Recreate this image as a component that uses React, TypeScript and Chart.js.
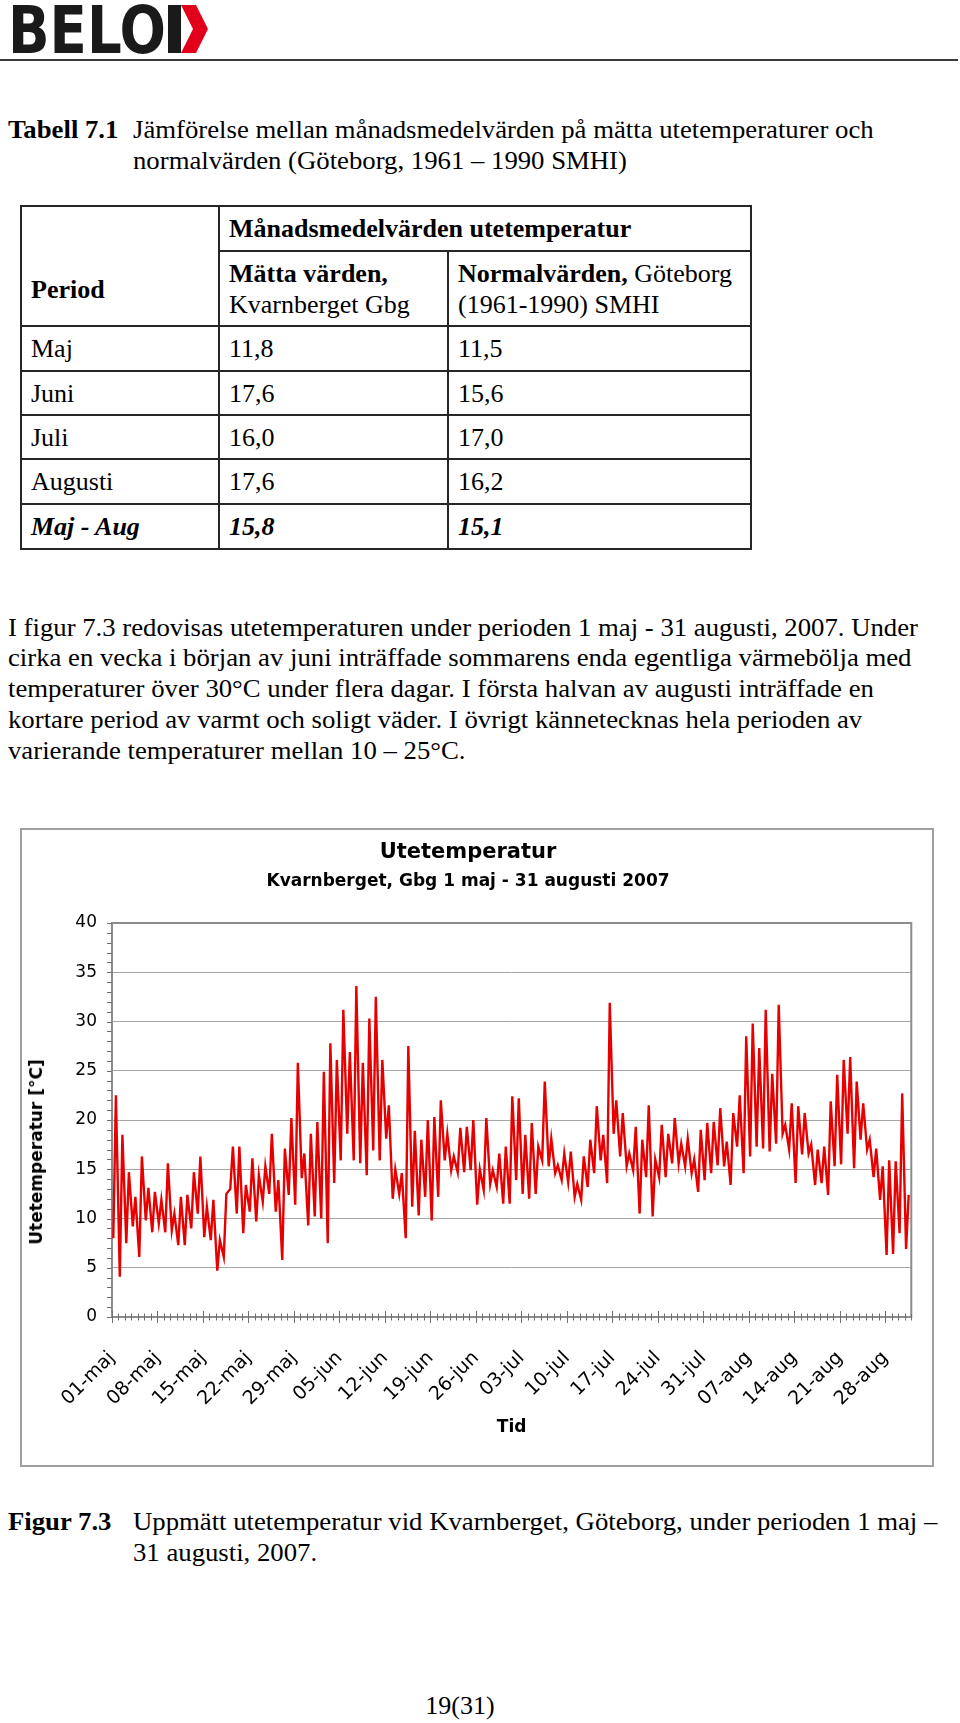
import React, { useEffect, useRef } from 'react';
import { Chart, registerables } from 'chart.js';

Chart.register(...registerables);

// ---- Chart data ----
const tickLabels = [
  '01-maj', '08-maj', '15-maj', '22-maj', '29-maj', '05-jun', '12-jun', '19-jun', '26-jun',
  '03-jul', '10-jul', '17-jul', '24-jul', '31-jul', '07-aug', '14-aug', '21-aug', '28-aug',
];

// Daily low (night) temperatures, 1 May - 31 Aug 2007 (123 days)
const dailyLow = [
  8.0, 4.1, 7.5, 9.2, 6.1, 9.8, 8.6, 9.5, 8.6, 8.8,
  7.3, 7.3, 9.0, 10.5, 8.1, 7.8, 4.7, 6.1, 13.0, 10.5,
  8.5, 10.7, 9.7, 11.7, 12.5, 10.7, 5.8, 12.4, 11.4, 14.1,
  9.3, 10.2, 10.0, 7.5, 13.6, 15.9, 18.6, 15.9, 15.6, 14.4,
  16.9, 15.9, 18.1, 12.0, 12.5, 8.0, 11.2, 10.3, 12.2, 9.8,
  12.2, 15.9, 14.9, 14.7, 14.7, 14.9, 11.4, 12.9, 13.5, 13.2,
  11.5, 11.5, 13.9, 12.5, 12.0, 12.5, 15.9, 15.3, 14.6, 13.9,
  13.7, 12.2, 11.9, 13.2, 14.6, 15.9, 13.6, 18.6, 16.3, 15.3,
  14.9, 10.5, 14.2, 10.2, 14.2, 14.2, 15.6, 15.6, 15.3, 14.6,
  12.7, 13.9, 14.6, 15.4, 15.3, 13.4, 17.3, 14.6, 16.3, 17.3,
  17.1, 16.8, 17.6, 18.6, 17.0, 13.6, 16.5, 16.6, 13.4, 13.6,
  12.4, 15.3, 15.5, 18.6, 15.1, 18.0, 17.0, 14.2, 11.9, 6.3,
  6.4, 8.5, 6.9,
];

// Daily high (afternoon) temperatures
const dailyHigh = [
  22.5, 18.5, 14.7, 12.2, 16.3, 13.1, 12.7, 11.9, 15.6, 10.5,
  12.2, 12.4, 14.7, 16.3, 11.2, 11.9, 7.8, 12.5, 17.3, 17.3,
  13.4, 16.1, 14.4, 15.3, 18.6, 13.9, 17.1, 20.2, 25.8, 16.6,
  18.6, 19.8, 24.9, 27.8, 26.1, 31.2, 26.9, 33.6, 25.8, 30.3,
  32.5, 26.1, 21.5, 15.0, 14.6, 27.5, 18.9, 18.0, 20.0, 20.3,
  22.0, 18.6, 16.3, 19.2, 19.3, 20.0, 15.0, 20.2, 14.9, 16.6,
  17.3, 22.4, 22.2, 18.5, 19.7, 17.3, 23.9, 18.1, 15.4, 16.6,
  16.8, 13.5, 16.3, 18.0, 21.4, 18.5, 31.9, 22.0, 20.7, 16.6,
  19.3, 18.0, 21.5, 16.0, 19.5, 18.6, 20.2, 17.6, 18.1, 16.0,
  19.0, 19.7, 19.8, 21.2, 17.8, 20.7, 22.5, 28.5, 29.8, 27.3,
  31.2, 24.7, 31.7, 19.5, 21.7, 21.4, 20.7, 17.5, 17.0, 17.3,
  21.9, 24.6, 26.1, 26.4, 23.9, 21.7, 18.0, 17.1, 15.3, 15.9,
  15.8, 22.7, 12.4,
];

// ---- Table data ----
const periods = ['Maj', 'Juni', 'Juli', 'Augusti'];
const measured = ['11,8', '17,6', '16,0', '17,6'];
const normals = ['11,5', '15,6', '17,0', '16,2'];
const summary = ['Maj - Aug', '15,8', '15,1'];

const SERIF = '"Liberation Serif", "Times New Roman", serif';
const CHART_FONT = '"DejaVu Sans", Verdana, sans-serif';

const tickMarksPlugin = {
  id: 'tickMarks',
  beforeDatasetsDraw(chart: any) {
    const { ctx, chartArea: a, scales } = chart;
    const x = scales.x;
    const y = scales.y;
    ctx.save();
    ctx.strokeStyle = '#8c8c8c';
    ctx.lineWidth = 2;
    ctx.strokeRect(a.left, a.top, a.right - a.left, a.bottom - a.top);
    ctx.strokeStyle = '#707070';
    ctx.lineWidth = 1;
    ctx.beginPath();
    for (let d = 0; d <= x.max; d++) {
      const px = Math.round(x.getPixelForValue(d)) + 0.5;
      const len = d % 7 === 0 ? 6 : 3.5;
      ctx.moveTo(px, a.bottom - len);
      ctx.lineTo(px, a.bottom + len);
    }
    for (let v = y.min; v <= y.max; v++) {
      const py = Math.round(y.getPixelForValue(v)) + 0.5;
      ctx.moveTo(a.left - 5, py);
      ctx.lineTo(a.left, py);
    }
    ctx.stroke();
    ctx.restore();
  },
};

function TempChart() {
  const ref = useRef<HTMLCanvasElement | null>(null);
  useEffect(() => {
    if (!ref.current) return;
    Chart.defaults.font.family = CHART_FONT;
    Chart.defaults.color = '#000';
    const points = dailyLow.flatMap((lo, d) => [
      { x: d + 0.2, y: lo },
      { x: d + 0.6, y: dailyHigh[d] },
    ]);
    const chart = new Chart(ref.current, {
      type: 'line',
      data: {
        datasets: [
          {
            data: points,
            borderColor: '#e60000',
            borderWidth: 2.4,
            pointRadius: 0,
            tension: 0,
            fill: false,
          },
        ],
      },
      options: {
        animation: false,
        responsive: false,
        maintainAspectRatio: false,
        events: [],
        layout: { padding: { left: 0, right: 18, top: 0, bottom: 0 } },
        plugins: {
          legend: { display: false },
          tooltip: { enabled: false },
          title: {
            display: true,
            text: 'Utetemperatur',
            color: '#000',
            font: { size: 21, weight: 'bold' },
            padding: { top: 10.4, bottom: 0 },
          },
          subtitle: {
            display: true,
            text: 'Kvarnberget, Gbg 1 maj - 31 augusti 2007',
            color: '#000',
            font: { size: 17, weight: 'bold' },
            padding: { top: 6.2, bottom: 30.8 },
          },
        },
        scales: {
          x: {
            type: 'linear',
            min: 0,
            max: 123,
            afterBuildTicks: (s: any) => {
              s.ticks = tickLabels.map((_, i) => ({ value: i * 7 }));
            },
            afterFit: (s: any) => {
              s.height = 148;
            },
            grid: { display: false, drawTicks: false },
            border: { display: false },
            ticks: {
              autoSkip: false,
              minRotation: 45,
              maxRotation: 45,
              padding: 30,
              color: '#000',
              font: { size: 19 },
              callback: (v: any) => tickLabels[Math.round(Number(v) / 7)] ?? '',
            },
            title: {
              display: true,
              text: 'Tid',
              color: '#000',
              font: { size: 17, weight: 'bold' },
              padding: { top: 0, bottom: 26.8 },
            },
          },
          y: {
            min: 0,
            max: 40,
            afterFit: (s: any) => {
              s.width = 90;
            },
            grid: { color: '#a6a6a6', lineWidth: 1, drawTicks: false },
            border: { display: false },
            ticks: { stepSize: 5, padding: 15, color: '#000', font: { size: 17 } },
          },
        },
      },
      plugins: [tickMarksPlugin],
    } as any);
    return () => chart.destroy();
  }, []);
  return <canvas ref={ref} width={910} height={635} style={{ width: 910, height: 635, display: 'block' }} />;
}

const LH = 31;
const ASC = 24.3;

function Line({ x, base, children, style }: { x: number; base: number; children: React.ReactNode; style?: React.CSSProperties }) {
  return (
    <div
      style={{
        position: 'absolute',
        left: x,
        top: base - ASC,
        lineHeight: `${LH}px`,
        fontSize: 26,
        fontFamily: SERIF,
        whiteSpace: 'nowrap',
        transform: 'scaleX(1.028)',
        transformOrigin: 'left center',
        ...style,
      }}
    >
      {children}
    </div>
  );
}

const cell = (extra?: React.CSSProperties): React.CSSProperties => ({
  border: '2px solid #262626',
  padding: '0 0 0 9px',
  verticalAlign: 'middle',
  whiteSpace: 'nowrap',
  ...extra,
});

export default function App() {
  const paraLines = [
    'I figur 7.3 redovisas utetemperaturen under perioden 1 maj - 31 augusti, 2007. Under',
    'cirka en vecka i början av juni inträffade sommarens enda egentliga värmebölja med',
    'temperaturer över 30°C under flera dagar. I första halvan av augusti inträffade en',
    'kortare period av varmt och soligt väder. I övrigt kännetecknas hela perioden av',
    'varierande temperaturer mellan 10 – 25°C.',
  ];
  return (
    <div
      style={{
        position: 'absolute',
        left: 0,
        top: 0,
        width: 960,
        height: 1723,
        overflow: 'hidden',
        background: '#fff',
        color: '#000',
        fontFamily: SERIF,
      }}
    >
      {/* Logo */}
      <svg style={{ position: 'absolute', left: 0, top: 0 }} width={220} height={58}>
        <text
          x={8}
          y={53}
          textLength={158}
          lengthAdjust="spacingAndGlyphs"
          fontFamily='"DejaVu Sans Condensed", "DejaVu Sans", sans-serif'
          fontWeight="bold"
          fontSize={66}
          fill="#1a1a1a"
        >
          BELO
        </text>
        <rect x={168} y={5} width={13} height={48} fill="#1a1a1a" />
        <polygon points="181,5 196,5 208,29 196,53 181,53 193,29" fill="#e3001b" />
      </svg>
      <div style={{ position: 'absolute', left: 0, top: 59, width: 958, height: 2, background: '#3a3a3a' }} />

      {/* Table caption */}
      <Line x={8} base={138.5} style={{ fontWeight: 'bold' }}>Tabell 7.1</Line>
      <Line x={133} base={138.5}>Jämförelse mellan månadsmedelvärden på mätta utetemperaturer och</Line>
      <Line x={133} base={169.5}>normalvärden (Göteborg, 1961 – 1990 SMHI)</Line>

      {/* Table */}
      <table
        style={{
          position: 'absolute',
          left: 20,
          top: 205,
          width: 730,
          borderCollapse: 'collapse',
          tableLayout: 'fixed',
          fontSize: 26,
          lineHeight: `${LH}px`,
          fontFamily: SERIF,
        }}
      >
        <colgroup>
          <col style={{ width: 198 }} />
          <col style={{ width: 229 }} />
          <col style={{ width: 303 }} />
        </colgroup>
        <tbody>
          <tr style={{ height: 45 }}>
            <td rowSpan={2} style={cell({ verticalAlign: 'bottom', paddingBottom: 20, fontWeight: 'bold' })}>
              Period
            </td>
            <td colSpan={2} style={cell({ fontWeight: 'bold' })}>
              Månadsmedelvärden utetemperatur
            </td>
          </tr>
          <tr style={{ height: 75 }}>
            <td style={cell()}>
              <b>Mätta värden,</b>
              <br />
              Kvarnberget Gbg
            </td>
            <td style={cell()}>
              <b>Normalvärden,</b> Göteborg
              <br />
              (1961-1990) SMHI
            </td>
          </tr>
          {periods.map((p, i) => (
            <tr key={p} style={{ height: i === 1 || i === 2 ? 44 : 45 }}>
              <td style={cell()}>{p}</td>
              <td style={cell()}>{measured[i]}</td>
              <td style={cell()}>{normals[i]}</td>
            </tr>
          ))}
          <tr style={{ height: 45 }}>
            {summary.map((s) => (
              <td key={s} style={cell({ fontWeight: 'bold', fontStyle: 'italic' })}>
                {s}
              </td>
            ))}
          </tr>
        </tbody>
      </table>

      {/* Paragraph */}
      {paraLines.map((t, i) => (
        <Line key={i} x={8} base={636 + i * 30.75}>
          {t}
        </Line>
      ))}

      {/* Chart frame */}
      <div
        style={{
          position: 'absolute',
          left: 20,
          top: 828,
          width: 910,
          height: 635,
          border: '2px solid #a0a0a0',
          background: '#fff',
        }}
      >
        <TempChart />
      </div>
      <div
        style={{
          position: 'absolute',
          left: 36,
          top: 1152,
          transform: 'translate(-50%, -50%) rotate(-90deg)',
          fontFamily: CHART_FONT,
          fontWeight: 'bold',
          fontSize: 17,
          lineHeight: '20px',
          whiteSpace: 'nowrap',
        }}
      >
        Utetemperatur [°C]
      </div>

      {/* Figure caption */}
      <Line x={8} base={1530} style={{ fontWeight: 'bold' }}>Figur 7.3</Line>
      <Line x={133} base={1530}>Uppmätt utetemperatur vid Kvarnberget, Göteborg, under perioden 1 maj –</Line>
      <Line x={133} base={1561}>31 augusti, 2007.</Line>

      {/* Page number */}
      <div
        style={{
          position: 'absolute',
          left: 0,
          width: 920,
          top: 1714 - ASC,
          textAlign: 'center',
          fontSize: 26,
          lineHeight: `${LH}px`,
          fontFamily: SERIF,
        }}
      >
        19(31)
      </div>
    </div>
  );
}
